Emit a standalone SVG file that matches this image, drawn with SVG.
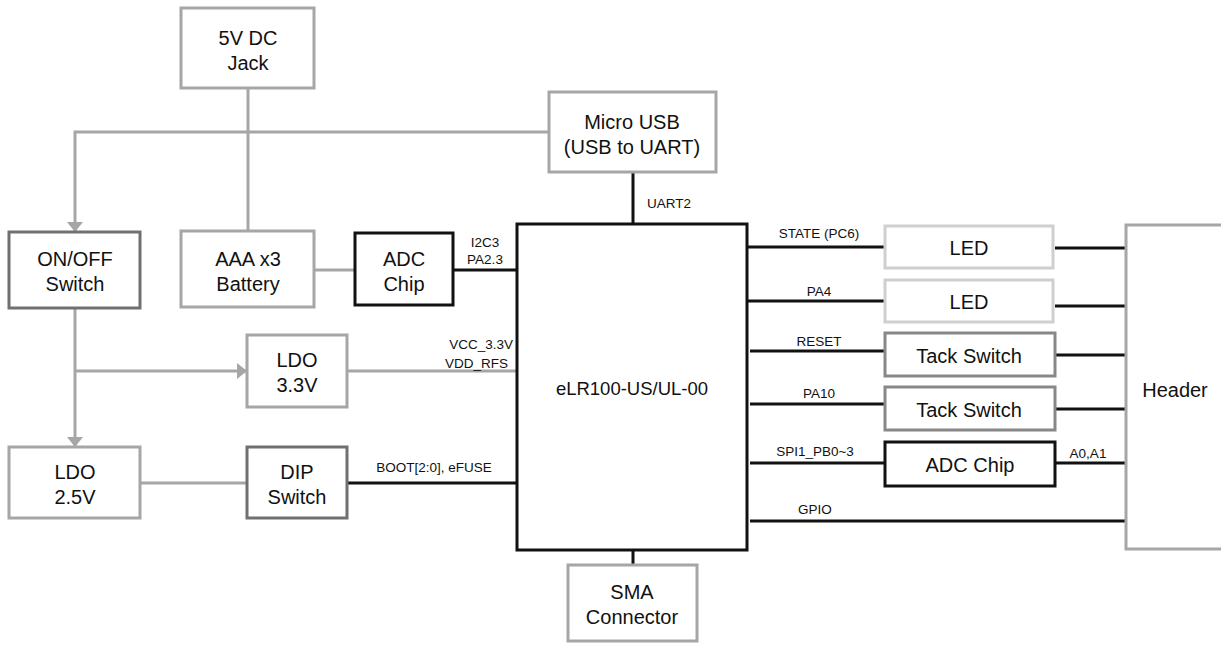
<svg xmlns="http://www.w3.org/2000/svg" width="1221" height="646" viewBox="0 0 1221 646">
<style>
.box{fill:#fff;stroke-width:3}
.g{stroke:#a6a6a6}
.d{stroke:#707070}
.l{stroke:#cfcfcf}
.t{stroke:#888}
.k{stroke:#111}
.gl{stroke:#a6a6a6;stroke-width:3;fill:none}
.kl{stroke:#111;stroke-width:3;fill:none}
text{font-family:"Liberation Sans",Arial,sans-serif;fill:#111}
.n{font-size:20px;text-anchor:middle}
.s{font-size:13.5px}
.c{text-anchor:middle}
</style>
<defs>
<marker id="ah" viewBox="0 0 10 16" refX="9" refY="8" markerWidth="3.4" markerHeight="5.4" markerUnits="strokeWidth" orient="auto">
<path d="M0,0 L10,8 L0,16 z" fill="#a6a6a6"/>
</marker>
</defs>
<g id="connectors">
<line class="gl" x1="248" y1="88" x2="248" y2="231"/>
<polyline class="gl" points="549,132 75,132 75,231" marker-end="url(#ah)"/>
<line class="gl" x1="314" y1="270" x2="355" y2="270"/>
<line class="gl" x1="75" y1="308" x2="75" y2="446" marker-end="url(#ah)"/>
<line class="gl" x1="75" y1="371" x2="246" y2="371" marker-end="url(#ah)"/>
<line class="gl" x1="347" y1="371" x2="517" y2="371"/>
<line class="gl" x1="140" y1="483" x2="247" y2="483"/>
<line class="kl" x1="347" y1="483" x2="517" y2="483"/>
<line class="kl" x1="453" y1="270" x2="517" y2="270"/>
<line class="kl" x1="633" y1="172" x2="633" y2="224"/>
<line class="kl" x1="633" y1="550" x2="633" y2="565"/>
<line class="kl" x1="747" y1="247" x2="885" y2="247"/>
<line class="kl" x1="1055" y1="248" x2="1126" y2="248"/>
<line class="kl" x1="747" y1="301" x2="885" y2="301"/>
<line class="kl" x1="1055" y1="306" x2="1126" y2="306"/>
<line class="kl" x1="750" y1="351" x2="885" y2="351"/>
<line class="kl" x1="1055" y1="355" x2="1126" y2="355"/>
<line class="kl" x1="750" y1="404" x2="885" y2="404"/>
<line class="kl" x1="1055" y1="409" x2="1126" y2="409"/>
<line class="kl" x1="750" y1="463" x2="885" y2="463"/>
<line class="kl" x1="1055" y1="463" x2="1126" y2="463"/>
<line class="kl" x1="750" y1="521" x2="1126" y2="521"/>
<text class="s" x="647" y="208">UART2</text>
<text class="s c" x="485" y="247">I2C3</text>
<text class="s c" x="485" y="264">PA2.3</text>
<text class="s" x="513" y="349" text-anchor="end">VCC_3.3V</text>
<text class="s" x="508" y="368" text-anchor="end">VDD_RFS</text>
<text class="s c" x="434" y="472">BOOT[2:0], eFUSE</text>
<text class="s c" x="819" y="238">STATE (PC6)</text>
<text class="s c" x="819" y="296">PA4</text>
<text class="s c" x="819" y="346">RESET</text>
<text class="s c" x="819" y="398">PA10</text>
<text class="s c" x="815" y="456">SPI1_PB0~3</text>
<text class="s c" x="1088" y="458">A0,A1</text>
<text class="s c" x="815" y="514">GPIO</text>
</g>
<g id="jack"><rect class="box g" x="181" y="8" width="133" height="80"/><text class="n" x="248" y="45">5V DC</text><text class="n" x="248" y="70">Jack</text></g>
<g id="microusb"><rect class="box g" x="549" y="92" width="167" height="80"/><text class="n" x="632" y="129">Micro USB</text><text class="n" x="632" y="154">(USB to UART)</text></g>
<g id="onoff"><rect class="box d" x="9" y="232" width="131" height="76"/><text class="n" x="75" y="266">ON/OFF</text><text class="n" x="75" y="291">Switch</text></g>
<g id="battery"><rect class="box g" x="181" y="231" width="133" height="76"/><text class="n" x="248" y="266">AAA x3</text><text class="n" x="248" y="291">Battery</text></g>
<g id="adc1"><rect class="box k" x="355" y="233" width="98" height="72"/><text class="n" x="404" y="266">ADC</text><text class="n" x="404" y="291">Chip</text></g>
<g id="ldo33"><rect class="box g" x="247" y="335" width="100" height="72"/><text class="n" x="297" y="367">LDO</text><text class="n" x="297" y="392">3.3V</text></g>
<g id="ldo25"><rect class="box g" x="9" y="447" width="131" height="71"/><text class="n" x="75" y="479">LDO</text><text class="n" x="75" y="504">2.5V</text></g>
<g id="dip"><rect class="box d" x="247" y="447" width="100" height="71"/><text class="n" x="297" y="479">DIP</text><text class="n" x="297" y="504">Switch</text></g>
<g id="chip"><rect class="box k" x="517" y="224" width="230" height="326"/><text x="632" y="395" font-size="18.5" text-anchor="middle">eLR100-US/UL-00</text></g>
<g id="sma"><rect class="box g" x="568" y="565" width="129" height="76"/><text class="n" x="632" y="599">SMA</text><text class="n" x="632" y="624">Connector</text></g>
<g id="led1"><rect class="box l" x="885" y="226" width="168" height="42"/><text class="n" x="969" y="255">LED</text></g>
<g id="led2"><rect class="box l" x="885" y="280" width="168" height="42"/><text class="n" x="969" y="309">LED</text></g>
<g id="tack1"><rect class="box t" x="885" y="333" width="170" height="43"/><text class="n" x="969" y="363">Tack Switch</text></g>
<g id="tack2"><rect class="box t" x="885" y="387" width="170" height="43"/><text class="n" x="969" y="417">Tack Switch</text></g>
<g id="adc2"><rect class="box k" x="885" y="442" width="170" height="44"/><text class="n" x="970" y="472">ADC Chip</text></g>
<g id="header"><rect class="box g" x="1126" y="225" width="100" height="324"/><text class="n" x="1175" y="397">Header</text></g>
</svg>
